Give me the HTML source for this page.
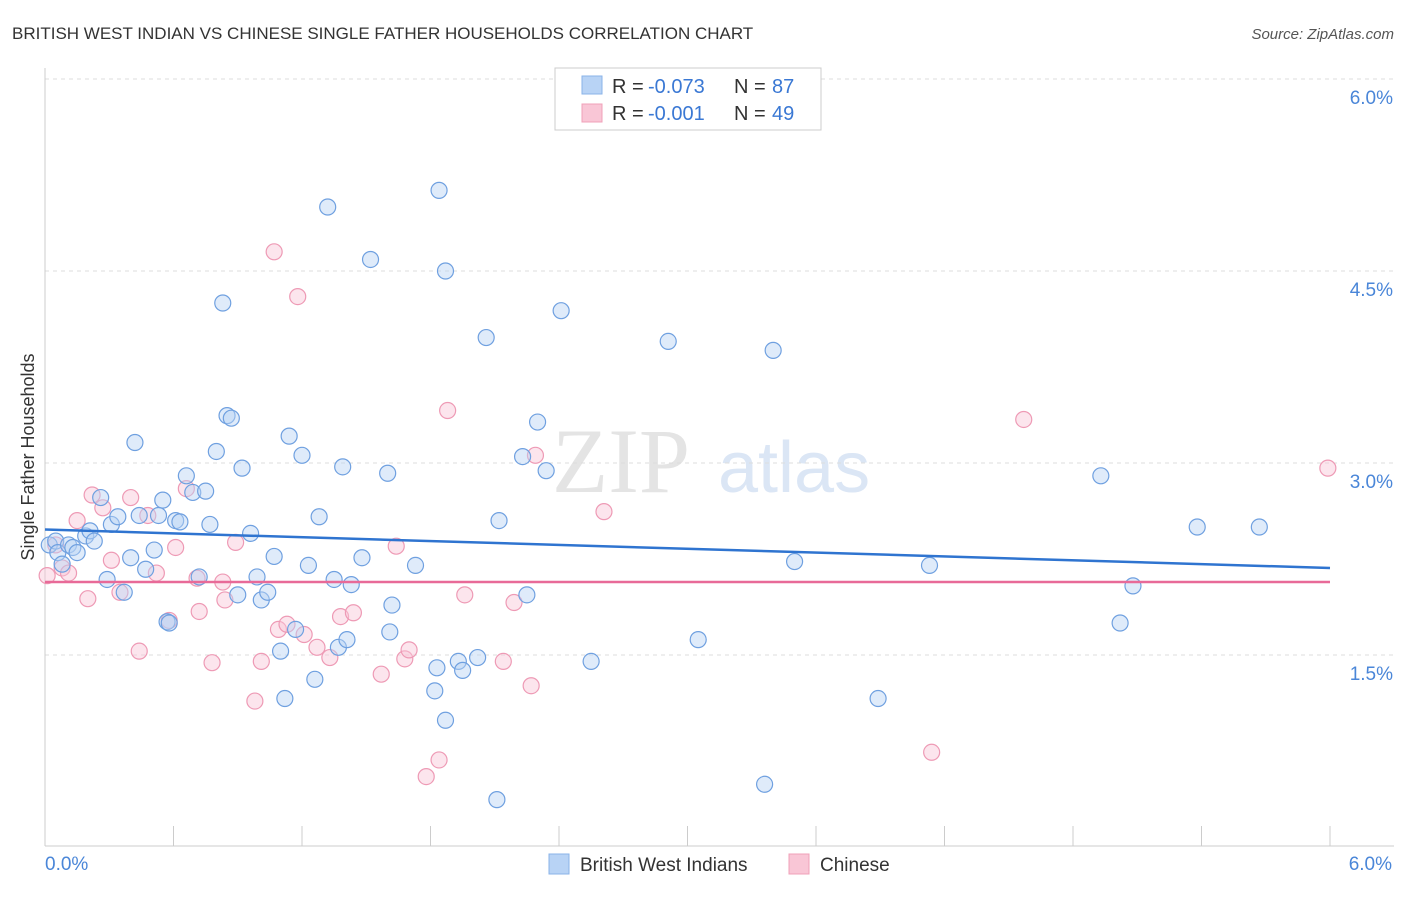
<!DOCTYPE html>
<html><head><meta charset="utf-8"><style>
body{margin:0;background:#fff;font-family:"Liberation Sans",sans-serif}
</style></head><body>
<svg id="svg" width="1406" height="892" xmlns="http://www.w3.org/2000/svg" font-family="Liberation Sans, sans-serif">
<text x="12" y="39" font-size="17" fill="#333">BRITISH WEST INDIAN VS CHINESE SINGLE FATHER HOUSEHOLDS CORRELATION CHART</text>
<text x="1394" y="39" font-size="15" fill="#555" font-style="italic" text-anchor="end">Source: ZipAtlas.com</text>
<g><text x="552" y="492" font-size="92" font-family="Liberation Serif, serif" fill="#e4e4e4">ZIP</text><text x="718" y="492" font-size="72" fill="#dbe6f5">atlas</text></g>
<g id="grid"></g>
<g id="axes"></g>
<g id="marks"></g>
<text transform="translate(34,457) rotate(-90)" font-size="18" fill="#333" text-anchor="middle">Single Father Households</text>
<g>
<rect x="555" y="68" width="266" height="62" fill="#fff" stroke="#ccc"/>
<rect x="582" y="76" width="20" height="18" fill="#b8d3f5" stroke="#8ab3e8"/>
<rect x="582" y="104" width="20" height="18" fill="#f9c6d6" stroke="#f0a0b8"/>
<text x="612" y="93" font-size="20" fill="#333">R =</text><text x="648" y="93" font-size="20" fill="#3a78d4">-0.073</text>
<text x="734" y="93" font-size="20" fill="#333">N =</text><text x="772" y="93" font-size="20" fill="#3a78d4">87</text>
<text x="612" y="120" font-size="20" fill="#333">R =</text><text x="648" y="120" font-size="20" fill="#3a78d4">-0.001</text>
<text x="734" y="120" font-size="20" fill="#333">N =</text><text x="772" y="120" font-size="20" fill="#3a78d4">49</text>
</g>
<g>
<rect x="549" y="854" width="20" height="20" fill="#b8d3f5" stroke="#8ab3e8"/>
<text x="580" y="871" font-size="19" fill="#333">British West Indians</text>
<rect x="789" y="854" width="20" height="20" fill="#f9c6d6" stroke="#f0a0b8"/>
<text x="820" y="871" font-size="19" fill="#333">Chinese</text>
</g>
</svg>
<script>
const yTicks=[1.5,3.0,4.5,6.0];
const yTickLabels=["1.5%","3.0%","4.5%","6.0%"];
const xTickLabels=["0.0%","6.0%"];
const blueX=[0.02,0.05,0.06,0.08,0.11,0.13,0.15,0.19,0.21,0.23,0.26,0.29,0.31,0.34,0.37,0.40,0.42,0.44,0.47,0.51,0.53,0.55,0.57,0.58,0.61,0.63,0.66,0.69,0.72,0.75,0.77,0.80,0.83,0.85,0.87,0.90,0.92,0.96,0.99,1.01,1.04,1.07,1.10,1.12,1.14,1.17,1.20,1.23,1.26,1.28,1.32,1.35,1.37,1.39,1.41,1.43,1.48,1.52,1.60,1.62,1.61,1.73,1.82,1.83,1.84,1.87,1.87,1.93,1.95,2.02,2.06,2.11,2.12,2.23,2.25,2.30,2.34,2.41,2.55,2.91,3.05,3.36,3.40,3.50,3.89,4.13,4.93,5.02,5.08,5.38,5.67];
const blueY=[2.36,2.39,2.30,2.21,2.36,2.34,2.30,2.43,2.47,2.39,2.73,2.09,2.52,2.58,1.99,2.26,3.16,2.59,2.17,2.32,2.59,2.71,1.76,1.75,2.55,2.54,2.90,2.77,2.11,2.78,2.52,3.09,4.25,3.37,3.35,1.97,2.96,2.45,2.11,1.93,1.99,2.27,1.53,1.16,3.21,1.70,3.06,2.20,1.31,2.58,5.00,2.09,1.56,2.97,1.62,2.05,2.26,4.59,2.92,1.89,1.68,2.20,1.22,1.40,5.13,0.99,4.50,1.45,1.38,1.48,3.98,0.37,2.55,3.05,1.97,3.32,2.94,4.19,1.45,3.95,1.62,0.49,3.88,2.23,1.16,2.20,2.90,1.75,2.04,2.5,2.5];
const pinkX=[0.01,0.05,0.08,0.11,0.15,0.20,0.22,0.27,0.31,0.35,0.40,0.44,0.48,0.52,0.58,0.61,0.66,0.71,0.72,0.78,0.83,0.84,0.89,0.98,1.01,1.07,1.09,1.13,1.18,1.21,1.27,1.33,1.38,1.44,1.57,1.64,1.68,1.70,1.78,1.84,1.88,1.96,2.14,2.19,2.27,2.29,2.61,4.14,4.57,5.99];
const pinkY=[2.12,2.36,2.18,2.14,2.55,1.94,2.75,2.65,2.24,1.99,2.73,1.53,2.59,2.14,1.77,2.34,2.80,2.10,1.84,1.44,2.07,1.93,2.38,1.14,1.45,4.65,1.70,1.74,4.30,1.66,1.56,1.48,1.80,1.83,1.35,2.35,1.47,1.54,0.55,0.68,3.41,1.97,1.45,1.91,1.26,3.06,2.62,0.74,3.34,2.96];
const blueTrend=[2.48,-0.05];
const pinkTrend=[2.07,0.0];
const x0=45,x1=1330,yb=847,ppu=128;
const X=v=>x0+(v/6)*(x1-x0), Y=v=>yb-v*ppu;
const NS="http://www.w3.org/2000/svg";
function mk(t,a,p){const e=document.createElementNS(NS,t);for(const k in a)e.setAttribute(k,a[k]);p.appendChild(e);return e;}
const g=document.getElementById('grid'),ax=document.getElementById('axes'),m=document.getElementById('marks');
yTicks.forEach((t,i)=>{const l=mk('line',{x1:45,x2:1394,y1:Y(t),y2:Y(t),stroke:'#ddd','stroke-dasharray':'4,4'},g);


const tx=mk('text',{x:1393,y:Y(t)+25,'font-size':19,fill:'#4a86d8','text-anchor':'end'},ax);tx.textContent=yTickLabels[i];

});
mk('line',{x1:45,x2:45,y1:68,y2:846,stroke:'#ccc'},ax);
mk('line',{x1:45,x2:1394,y1:846,y2:846,stroke:'#ccc'},ax);
for(let i=0;i<=10;i++){const xx=x0+i*(x1-x0)/10;const t=mk('line',{x1:xx,x2:xx,y1:826,y2:846,stroke:'#ccc'},ax);

}
[[45,'start'],[1392,'end']].forEach((p,i)=>{const t=mk('text',{x:p[0],y:870,'font-size':19,fill:'#4a86d8','text-anchor':p[1]},ax);t.textContent=xTickLabels[i];

});
function dots(xs,ys,fill,stroke,name){xs.forEach((v,i)=>{if(ys[i]===undefined)return;const c=mk('circle',{cx:X(v),cy:Y(ys[i]),r:8,fill:fill,'fill-opacity':0.45,stroke:stroke,'stroke-width':1.2},m);

});}
dots(pinkX,pinkY,'#f9c6d6','#ee9ab5','chinese-point');
dots(blueX,blueY,'#b8d3f5','#6fa0e0','bwi-point');
let l1=mk('line',{x1:X(0),x2:X(6),y1:Y(blueTrend[0]),y2:Y(blueTrend[0]+6*blueTrend[1]),stroke:'#2f74d0','stroke-width':2.5},m);


let l2=mk('line',{x1:X(0),x2:X(6),y1:Y(pinkTrend[0]),y2:Y(pinkTrend[0]+6*pinkTrend[1]),stroke:'#e86a98','stroke-width':2.5},m);


</script>
</body></html>
